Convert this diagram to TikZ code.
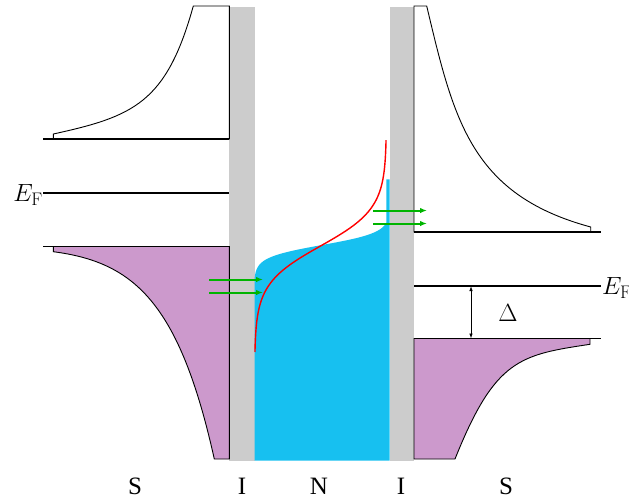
\documentclass[tikz,border=0pt]{standalone}
\usepackage{fontspec}
\newfontfamily\labfont{Liberation Serif}
\usetikzlibrary{arrows.meta}
\definecolor{sgray}{HTML}{CCCCCC}
\definecolor{spurple}{HTML}{CC99CC}
\definecolor{ncyan}{RGB}{23,192,240}
\definecolor{agreen}{RGB}{0,180,0}
\tikzset{
  dosline/.style={line width=0.9pt, line join=miter},
  level/.style={line width=1.2pt},
  tunnel/.style={draw=agreen, line width=2pt, -{Latex[length=7pt,width=5.5pt]}},
  gaparrow/.style={line width=0.8pt, {Latex[length=5pt,width=3.5pt]}-{Latex[length=5pt,width=3.5pt]}},
  lab/.style={font=\labfont\fontsize{25}{30}\selectfont, inner sep=0pt, anchor=base},
  mlab/.style={font=\fontsize{26}{30}\selectfont, inner sep=0pt}
}
\begin{document}
\begin{tikzpicture}[x=1pt,y=-1pt]
\useasboundingbox (0,0) rectangle (629,499);
% insulators
\fill[sgray] (229.3,6.5) rectangle (254.5,460.5);
\fill[sgray] (389.5,6.5) rectangle (414,460.5);
% normal metal occupation
\fill[ncyan] (254.5,460.5) -- plot[variable=\t, domain=-2.6:1.8, samples=100] ({322+68*tanh(\t)},{245-12.4*\t}) -- (386.3,179.3) -- (389.5,179.3) -- (389.5,460.5) -- cycle;
% left S
\draw[dosline] (229.3,139) -- (53.3,139) -- (53.3,134) .. controls (133.3,116.4) and (166.3,103.2) .. (193.3,6) -- (229.3,6) -- cycle;
\draw[dosline, fill=spurple] (229.3,246.5) -- (53.3,246.5) -- (53.3,251.7) .. controls (133.3,262.1) and (179.3,301.5) .. (214.3,459) -- (229.3,459) -- cycle;
\draw[level] (43,139) -- (229.3,139);
\draw[level] (43,193) -- (229.3,193);
\draw[level] (43,246.5) -- (229.3,246.5);
% right S
\draw[dosline] (414,232) -- (590.7,232) -- (590.7,227) .. controls (470.7,194.6) and (453.7,119.4) .. (426.7,6) -- (414,6) -- cycle;
\draw[dosline, fill=spurple] (414,338.5) -- (590,338.5) -- (590,344.3) .. controls (520,354.8) and (495,359) .. (455,459) -- (414,459) -- cycle;
\draw[level] (414,232) -- (601,232);
\draw[level] (414,286) -- (601,286);
\draw[level] (414,338.5) -- (601,338.5);
% red distribution
\draw[red, line width=1.4pt] plot[variable=\t, domain=-2.834:2.834, samples=120] ({320.5+66*tanh(\t)},{246-37.4*\t});
% tunnelling arrows
\coordinate (la1s) at (209,279.5); \coordinate (la1e) at (263,279.5);
\coordinate (la2s) at (209,292.5); \coordinate (la2e) at (263,292.5);
\coordinate (ra1s) at (373,210.5); \coordinate (ra1e) at (427,210.5);
\coordinate (ra2s) at (373,223.5); \coordinate (ra2e) at (427,223.5);
\draw[tunnel] (la1s) -- (la1e);
\draw[tunnel] (la2s) -- (la2e);
\draw[tunnel] (ra1s) -- (ra1e);
\draw[tunnel] (ra2s) -- (ra2e);
% gap
\coordinate (gtop) at (471,286); \coordinate (gbot) at (471,338.5);
\draw[gaparrow] (gtop) -- (gbot);
\node[mlab] (delta) at (508,313) {$\Delta$};
% Fermi level labels
\node[mlab, anchor=base east] (efl) at (43,201.7) {$E_{\mathrm{F}}$};
\node[mlab, anchor=base west] (efr) at (602,294.5) {$E_{\mathrm{F}}$};
% region labels
\node[lab] (s1) at (135,494) {S};
\node[lab] (i1) at (242,494) {I};
\node[lab] (n) at (319,494) {N};
\node[lab] (i2) at (401,494) {I};
\node[lab] (s2) at (506,494) {S};
\end{tikzpicture}
\end{document}
